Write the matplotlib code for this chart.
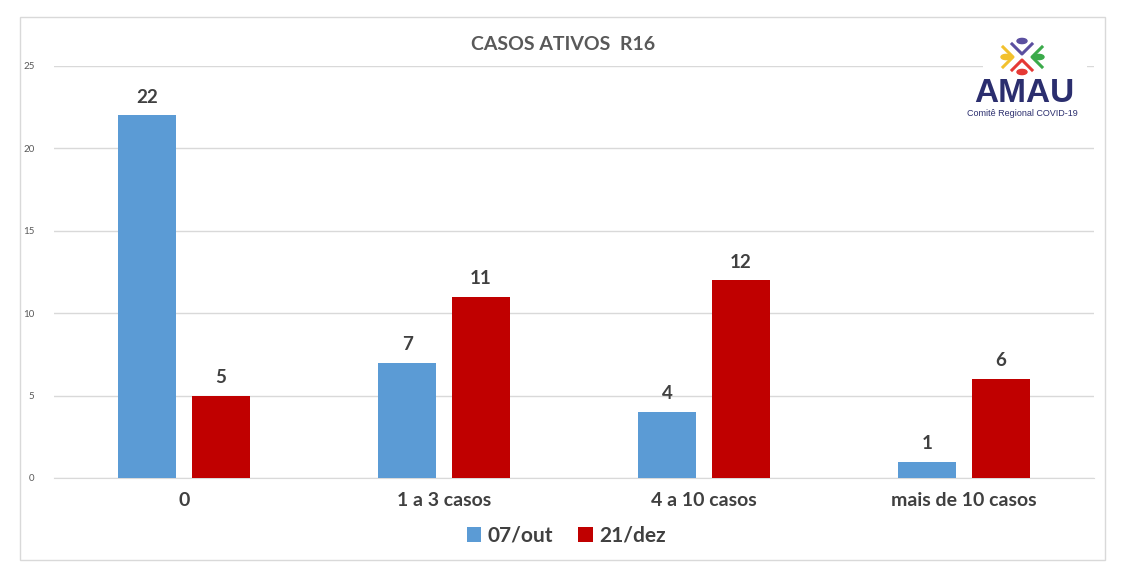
import matplotlib
matplotlib.use('Agg')
import matplotlib.pyplot as plt
import numpy as np
from matplotlib.patches import Rectangle, Circle
from matplotlib.lines import Line2D

plt.rcParams['font.family'] = ['Lato', 'DejaVu Sans']

categories = ['0', '1 a 3 casos', '4 a 10 casos', 'mais de 10 casos']
series_names = ['07/out', '21/dez']
out07 = [22, 7, 4, 1]
dez21 = [5, 11, 12, 6]
colors = ['#5B9BD5', '#C00000']

fig = plt.figure(figsize=(11.23, 5.82), dpi=100)
ax = fig.add_axes([0.0481, 0.1787, 0.9261, 0.7079])

x = np.arange(len(categories))
w = 0.223
off = 0.142
b1 = ax.bar(x - off, out07, w, color=colors[0], label=series_names[0], zorder=3)
b2 = ax.bar(x + off, dez21, w, color=colors[1], label=series_names[1], zorder=3)

for bars in (b1, b2):
	for b in bars:
		ax.annotate(str(int(b.get_height())), (b.get_x() + b.get_width() / 2, b.get_height()),
			xytext=(0, 7), textcoords='offset points', ha='center', va='bottom',
			fontsize=13.5, fontweight='bold', color='#404040')

ax.set_xlim(-0.5, 3.5)
ax.set_ylim(0, 25)
ax.set_yticks([0, 5, 10, 15, 20, 25])
ax.yaxis.grid(True, color='#D9D9D9', linewidth=1, zorder=0)
for s in ['top', 'right', 'left']:
	ax.spines[s].set_visible(False)
ax.spines['bottom'].set_color('#D9D9D9')
ax.tick_params(axis='y', length=0, labelsize=7, labelcolor='#595959', pad=14)
ax.tick_params(axis='x', length=0, labelsize=14, labelcolor='#404040', pad=10)
ax.set_xticks(x)
ax.set_xticklabels(categories, fontweight='bold')

fig.text(0.501, 1 - 44 / 582, 'CASOS ATIVOS  R16', ha='center', va='center',
	fontsize=14, fontweight='bold', color='#595959')

leg = fig.legend(loc='center', bbox_to_anchor=(0.504, 1 - 536 / 582), ncol=2, frameon=False,
	fontsize=15, handlelength=0.7, handleheight=0.7, handletextpad=0.3, columnspacing=1.2)
for t in leg.get_texts():
	t.set_color('#404040')
	t.set_fontweight('bold')

# outer border
fig.patches.append(Rectangle((20 / 1123, 1 - 560 / 582), 1085 / 1123, 543 / 582,
	transform=fig.transFigure, fill=False, edgecolor='#D9D9D9', linewidth=1))

# logo
def fx(px):
	return px / 1123

def fy(py):
	return 1 - py / 582

fig.patches.append(Rectangle((fx(983), fy(125)), 104 / 1123, 100 / 582,
	transform=fig.transFigure, facecolor='white', edgecolor='none', zorder=5))
icon = [
	((1022, 41), [(1012, 44), (1022, 54), (1032, 44)], '#5B4FA0'),
	((1006, 57), [(1003, 47), (1013, 57), (1003, 67)], '#F2C12E'),
	((1039, 57), [(1042, 47), (1032, 57), (1042, 67)], '#3BAA4A'),
	((1022, 72), [(1012, 70), (1022, 60), (1032, 70)], '#E53935'),
]
for (cx, cy), pts, c in icon:
	fig.patches.append(Circle((fx(cx), fy(cy)), 5 / 1123, transform=fig.transFigure,
		color=c, zorder=6))
	fig.lines.append(Line2D([fx(p[0]) for p in pts], [fy(p[1]) for p in pts],
		transform=fig.transFigure, color=c, linewidth=2.2, zorder=6))
fig.text(fx(1024), fy(93), 'AMAU', ha='center', va='center', fontsize=24,
	color='#2B2E6E', fontweight='bold', family=['Liberation Sans', 'DejaVu Sans'], zorder=7)
fig.text(fx(1022), fy(113), 'Comitê Regional COVID-19', ha='center', va='center',
	fontsize=6.5, color='#2B2E6E', family=['Liberation Sans', 'DejaVu Sans'], zorder=7)

fig.savefig('out.png', dpi=100)
